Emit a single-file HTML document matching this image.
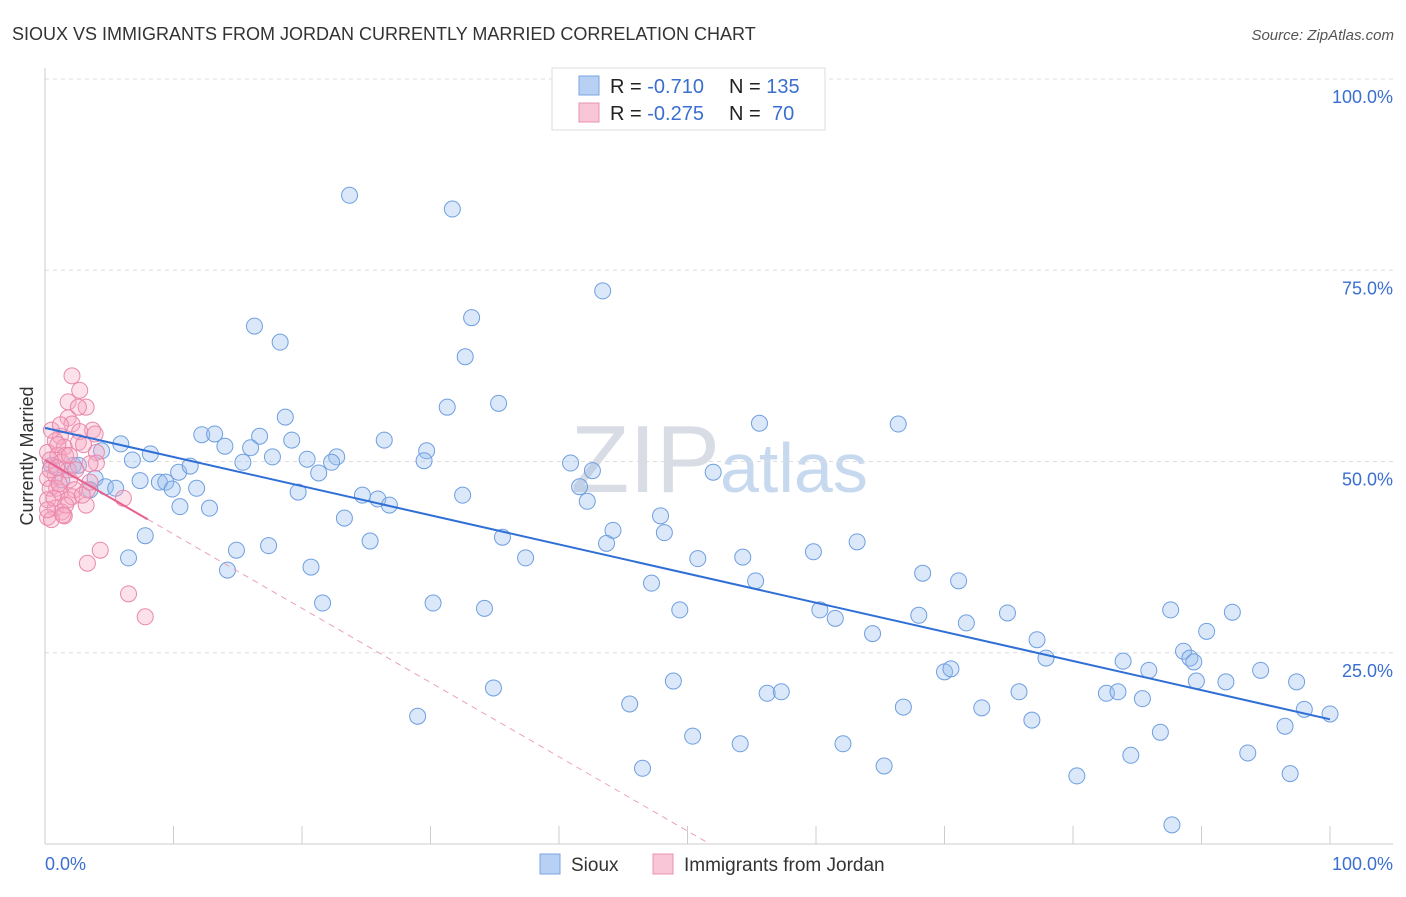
<!DOCTYPE html>
<html><head><meta charset="utf-8"><style>
body{margin:0;background:#fff;font-family:"Liberation Sans",sans-serif}
svg text{font-family:"Liberation Sans",sans-serif}
</style></head><body>
<svg id="chart" width="1406" height="892">
<text x="12" y="40" font-size="18" fill="#333">SIOUX VS IMMIGRANTS FROM JORDAN CURRENTLY MARRIED CORRELATION CHART</text>
<text x="1394" y="40" font-size="15" fill="#555" font-style="italic" text-anchor="end">Source: ZipAtlas.com</text>
<text x="0" y="0" transform="translate(33,456) rotate(-90)" font-size="18" fill="#333" text-anchor="middle">Currently Married</text>
<text x="720" y="492" font-size="96" fill="#d8dce4" font-family="Liberation Serif" text-anchor="end">ZIP</text>
<text x="720" y="492" font-size="70" fill="#c7d9ef">atlas</text>
<g id="grid"></g><g id="axes"></g><g id="pts"></g><g id="trend"></g>
<g>
<rect x="552" y="68" width="273" height="62" fill="#fff" stroke="#ddd"/>
<rect x="579" y="76" width="20" height="19" fill="#b7d0f3" stroke="#7aa6e3"/>
<rect x="579" y="103" width="20" height="19" fill="#f8c6d6" stroke="#ea93b0"/>
<text x="610" y="93" font-size="20" fill="#222">R = <tspan fill="#3a6fd0">-0.710</tspan><tspan x="729">N = </tspan><tspan fill="#3a6fd0">135</tspan></text>
<text x="610" y="120" font-size="20" fill="#222">R = <tspan fill="#3a6fd0">-0.275</tspan><tspan x="729">N = </tspan><tspan fill="#3a6fd0" x="772">70</tspan></text>
</g>
<g>
<rect x="540" y="854" width="20" height="20" fill="#b7d0f3" stroke="#7aa6e3"/>
<text x="571" y="871" font-size="19" fill="#333">Sioux</text>
<rect x="653" y="854" width="20" height="20" fill="#f8c6d6" stroke="#ea93b0"/>
<text x="684" y="871" font-size="19" fill="#333">Immigrants from Jordan</text>
</g>
</svg>
<script>
const siouxX=[23.7,31.7,43.4,16.3,18.3,33.2,32.7,31.3,35.3,18.7,55.6,66.4,5.9,8.2,6.8,12.2,13.2,14.0,16.7,19.2,16.0,15.4,17.7,20.4,22.7,22.3,21.3,26.4,29.7,29.5,40.9,42.6,52.0,10.4,11.3,7.4,8.9,9.4,9.9,11.8,10.5,12.8,19.7,24.7,25.9,26.8,32.5,41.6,42.2,23.3,35.6,44.2,43.7,47.9,48.2,37.4,25.3,17.4,14.9,14.2,20.7,7.8,6.5,50.8,54.3,59.8,63.2,55.3,47.2,68.3,71.1,21.6,30.2,34.2,49.4,60.3,61.5,68.0,71.7,74.9,64.4,77.2,77.9,83.9,85.9,87.6,90.4,92.4,88.6,89.1,89.4,70.0,70.5,94.6,89.6,91.9,97.4,34.9,48.9,56.2,57.3,75.8,82.6,83.5,85.4,45.5,66.8,72.9,76.8,29.0,50.4,54.1,62.1,86.8,96.5,98.0,100,84.5,93.6,65.3,46.5,80.3,96.9,87.7,2.2,4.4,3.9,3.5,4.7,5.5,2.6,1.3,0.5];
const siouxY=[84.8,83.0,72.3,67.7,65.6,68.8,63.7,57.1,57.6,55.8,55.0,54.9,52.3,51.0,50.2,53.5,53.6,52.0,53.3,52.8,51.8,49.9,50.6,50.3,50.6,49.9,48.5,52.8,51.4,50.1,49.8,48.8,48.6,48.6,49.4,47.5,47.3,47.3,46.4,46.5,44.1,43.9,46.0,45.6,45.1,44.3,45.6,46.7,44.8,42.6,40.1,41.0,39.3,42.9,40.7,37.4,39.6,39.0,38.4,35.8,36.2,40.3,37.4,37.3,37.5,38.2,39.5,34.4,34.1,35.4,34.4,31.5,31.5,30.8,30.6,30.6,29.5,29.9,28.9,30.2,27.5,26.7,24.3,23.9,22.7,30.6,27.8,30.3,25.2,24.3,23.8,22.5,22.9,22.7,21.3,21.2,21.2,20.4,21.3,19.7,19.9,19.9,19.7,19.9,19.0,18.3,17.9,17.8,16.2,16.7,14.1,13.1,13.1,14.6,15.4,17.6,17.0,11.6,11.9,10.2,9.9,8.9,9.2,2.5,49.5,51.4,47.8,46.3,46.7,46.5,49.5,47.6,49.5];
const jordanX=[2.1,2.7,1.8,3.2,2.6,1.8,2.1,3.7,2.7,1.2,0.8,1.5,0.2,1.0,4.0,0.4,1.3,1.8,0.8,0.2,4.0,3.5,0.9,1.9,0.4,1.2,2.3,3.3,0.2,0.8,1.8,2.1,3.2,1.3,0.2,1.5,4.3,3.3,6.1,6.5,7.8,0.5,1.0,1.6,2.4,0.7,2.9,0.4,1.2,2.6,1.6,0.9,1.9,3.5,0.5,1.4,3.0,3.9,1.1,0.2];
const jordanY=[61.2,59.3,57.8,57.1,57.1,55.7,54.9,54.1,53.9,53.3,52.7,51.9,51.2,50.8,51.2,50.2,49.9,48.9,48.2,47.8,49.8,49.7,46.5,47.6,46.5,46.0,46.3,46.3,45.0,43.9,45.0,45.4,44.3,43.4,42.7,42.9,38.4,36.7,45.2,32.7,29.7,54.1,52.2,50.8,48.9,45.2,45.6,48.9,54.8,52.5,44.3,49.2,50.8,47.3,42.4,43.0,52.2,53.6,47.1,43.7];
const siouxTrend=[54.4,16.3];
const jordanTrend=[50.2,-0.97];
const xTicks=[0,10,20,30,40,50,60,70,80,90,100];
const yTicks=[25,50,75,100];
const NS='http://www.w3.org/2000/svg';
const sx=v=>45+v*12.85, sy=v=>844-v*7.65;
function mk(tag,attrs,parent){const e=document.createElementNS(NS,tag);for(const k in attrs)e.setAttribute(k,attrs[k]);document.getElementById(parent).appendChild(e);return e;}
yTicks.forEach(t=>{
 const g=mk('line',{x1:45,x2:1393,y1:sy(t),y2:sy(t),stroke:'#ddd','stroke-dasharray':'4,4'},'grid');
 
 
 const l=mk('text',{x:1393,y:sy(t)+24,'font-size':18,fill:'#3a6fd0','text-anchor':'end'},'grid');
 l.textContent=t.toFixed(1)+'%';
 
 
});
const ax=mk('line',{x1:45,x2:1393,y1:844,y2:844,stroke:'#ccc'},'axes');


const ay=mk('line',{x1:45,x2:45,y1:68,y2:844,stroke:'#ccc'},'axes');


xTicks.forEach(t=>{
 const k=mk('line',{x1:sx(t),x2:sx(t),y1:826,y2:844,stroke:'#ccc'},'axes');
 
 
});
[[0,'start'],[100,'end']].forEach(([t,a])=>{
 const l=mk('text',{x:t===0?45:1393,y:870,'font-size':18,fill:'#3a6fd0','text-anchor':a},'axes');
 l.textContent=t.toFixed(1)+'%';
 
 
});
siouxX.forEach((x,i)=>{
 const c=mk('circle',{cx:sx(x),cy:sy(siouxY[i]),r:8,fill:'rgba(150,188,238,0.35)',stroke:'#6f9fe0','stroke-width':1},'pts');
 
 
});
jordanX.forEach((x,i)=>{
 const c=mk('circle',{cx:sx(x),cy:sy(jordanY[i]),r:8,fill:'rgba(245,165,195,0.35)',stroke:'#ea88aa','stroke-width':1},'pts');
 
 
});
const t1=mk('line',{x1:sx(0),y1:sy(siouxTrend[0]),x2:sx(100),y2:sy(siouxTrend[1]),stroke:'#2f6fd6','stroke-width':2},'trend');


const jx0=-jordanTrend[0]/jordanTrend[1];
const t2=mk('line',{x1:sx(8),y1:sy(jordanTrend[0]+8*jordanTrend[1]),x2:sx(jx0),y2:sy(0),stroke:'#eaa0b8','stroke-width':1,'stroke-dasharray':'6,5'},'trend');


const t3=mk('line',{x1:sx(0),y1:sy(jordanTrend[0]),x2:sx(8),y2:sy(jordanTrend[0]+8*jordanTrend[1]),stroke:'#e8608c','stroke-width':2},'trend');


</script>
</body></html>
